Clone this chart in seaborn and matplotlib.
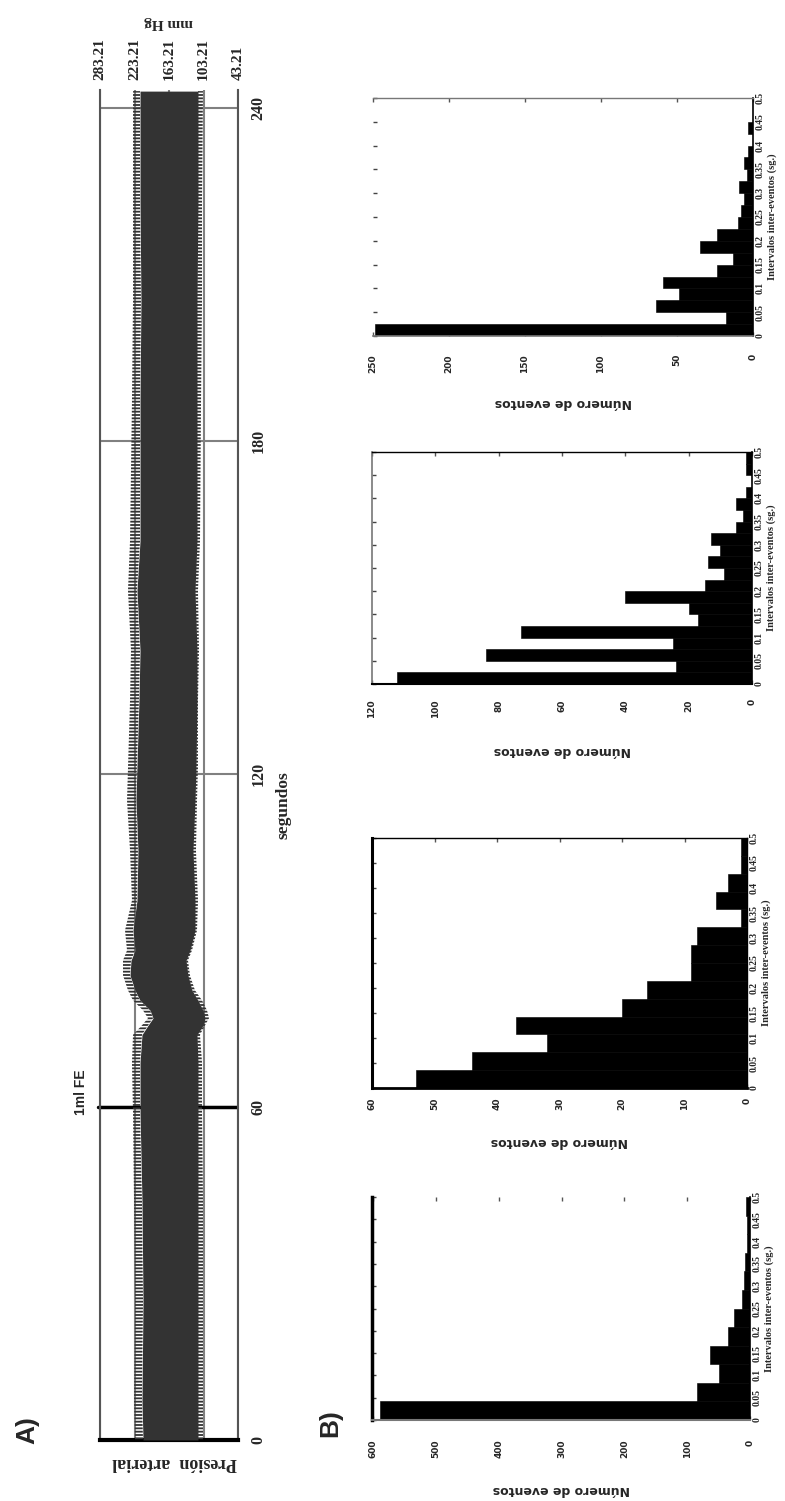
import numpy as np
import matplotlib
matplotlib.use("Agg")
import matplotlib.pyplot as plt
import matplotlib.transforms as mtransforms
import seaborn as sns

# A) registro de presion arterial: envolvente leida del trazo (segundos, mm Hg)
tiempo = [0, 7, 25, 43, 59, 68, 73, 74.7, 76, 77.4, 79.2, 81, 83.7, 86.4, 88.2,
          91.8, 97.2, 106.2, 115.2, 121.1, 133.2, 142.2, 153, 162, 187.2, 205.2,
          223.2, 243]
sist_pico = [222.3, 224.0, 222.3, 224.0, 225.8, 227.6, 225.8, 210.2, 199.7, 208.4,
             225.8, 234.5, 243.2, 243.2, 236.2, 239.7, 227.6, 231.0, 236.2, 234.5,
             231.0, 229.3, 234.5, 231.0, 227.6, 225.8, 225.8, 225.8]
sist_base = [208.4, 210.2, 208.4, 210.2, 213.6, 213.6, 210.2, 199.7, 191.0, 196.0,
             213.6, 222.3, 231.0, 229.3, 222.3, 225.8, 218.9, 217.2, 220.6, 219.0,
             215.5, 213.6, 218.9, 213.6, 213.6, 212.0, 213.6, 213.6]
diast_base = [112.8, 112.8, 112.8, 112.8, 112.8, 112.8, 114.5, 104.1, 100.6, 104.1,
              112.8, 123.2, 130.2, 133.6, 126.7, 118.0, 118.0, 121.5, 118.0, 116.3,
              114.5, 114.5, 118.0, 114.5, 114.5, 114.5, 112.8, 112.8]
diast_valle = [104.1, 104.1, 104.1, 104.1, 105.8, 105.8, 109.3, 100.6, 93.6, 97.1,
               105.8, 118.0, 126.7, 130.2, 123.2, 114.5, 112.8, 116.3, 114.5, 112.8,
               112.8, 111.0, 112.8, 109.3, 107.5, 105.8, 105.8, 104.1]
presion_ticks = [283.21, 223.21, 163.21, 103.21, 43.21]
tiempo_ticks = [0, 60, 120, 180, 240]
inyeccion = 60

# B) histogramas de intervalos inter-eventos (numero de eventos por intervalo)
eventos_1 = [590, 84, 50, 64, 35, 25, 12, 9, 8, 5, 5, 6]
eventos_2 = [53, 44, 32, 37, 20, 16, 9, 9, 8, 1, 5, 3, 1, 1]
eventos_3 = [112, 24, 84, 25, 73, 17, 20, 40, 15, 9, 14, 10, 13, 5, 3, 5, 2, 0, 2, 2]
eventos_4 = [249, 18, 64, 49, 59, 24, 13, 35, 24, 10, 8, 6, 9, 4, 6, 3, 0, 3, 0, 0]
cuentas_ticks_1 = [0, 100, 200, 300, 400, 500, 600]
cuentas_ticks_2 = [0, 10, 20, 30, 40, 50, 60]
cuentas_ticks_3 = [0, 20, 40, 60, 80, 100, 120]
cuentas_ticks_4 = [0, 50, 100, 150, 200, 250]
intervalo_ticks = [0, 0.05, 0.1, 0.15, 0.2, 0.25, 0.3, 0.35, 0.4, 0.45, 0.5]
intervalo_labels = ["0", "0.05", "0.1", "0.15", "0.2", "0.25", "0.3", "0.35", "0.4", "0.45", "0.5"]

sns.set_style("white")
plt.rcParams["font.family"] = ["Liberation Serif", "DejaVu Serif"]
plt.rcParams["hatch.linewidth"] = 1.3
plt.rcParams["hatch.color"] = "#333333"

fig = plt.figure(figsize=(7.85, 15.01), dpi=100)


def caja(px, py, pw, ph):
    return fig.add_axes([px / 785, 1 - (py + ph) / 1501, pw / 785, ph / 1501])


# ---------- A) ----------
axA = caja(100, 90, 138, 1350)
axA.fill_betweenx(tiempo, sist_base, diast_base, color="#333333", lw=0, zorder=3)
axA.fill_betweenx(tiempo, sist_pico, sist_base, facecolor="none", edgecolor="#333333",
                  hatch="-----", lw=0, zorder=3)
axA.fill_betweenx(tiempo, diast_base, diast_valle, facecolor="none", edgecolor="#333333",
                  hatch="-----", lw=0, zorder=3)
axA.axhline(inyeccion, color="black", lw=2.5, zorder=2)
axA.plot([286.5, 283.21], [inyeccion, inyeccion], color="black", lw=2.5, clip_on=False)

axA.set_xlim(283.21, 43.21)
axA.set_ylim(0, 243.2)
axA.set_xticks(presion_ticks)
axA.set_xticklabels([f"{v:.2f}" for v in presion_ticks], rotation=90,
                    fontsize=11, fontweight="bold")
axA.xaxis.tick_top()
axA.set_yticks(tiempo_ticks)
axA.yaxis.tick_right()
axA.set_yticklabels([str(v) for v in tiempo_ticks], rotation=90,
                    fontsize=11.5, fontweight="bold", va="center")
axA.tick_params(axis="x", length=0, pad=7)
axA.tick_params(axis="y", length=0, pad=9)
axA.grid(True, color="#808080", lw=1.5)
axA.set_axisbelow(True)
for lado in ["left", "right"]:
    axA.spines[lado].set_color("#555555")
    axA.spines[lado].set_linewidth(1.5)
axA.spines["top"].set_visible(False)
axA.spines["bottom"].set_color("black")
axA.spines["bottom"].set_linewidth(3)

axA.xaxis.set_label_position("top")
axA.set_xlabel("mm Hg", rotation=180, fontsize=11, fontweight="bold", labelpad=9)
axA.yaxis.set_label_position("right")
axA.set_ylabel("segundos", rotation=90, fontsize=12.5, fontweight="bold")
axA.yaxis.set_label_coords(1.275, 0.47)
axA.text(0.543, -0.017, "Presión  arterial", transform=axA.transAxes, rotation=180,
         ha="center", va="center", fontsize=13, fontweight="bold")
mezcla = mtransforms.blended_transform_factory(axA.transAxes, axA.transData)
axA.text(-0.138, 62.7, "1ml FE", transform=mezcla, rotation=90, ha="center", va="center",
         fontsize=10, fontweight="bold", family=["Liberation Sans", "DejaVu Sans"])

fig.text(27 / 785, 1 - 1430 / 1501, "A)", rotation=90, ha="center", va="center",
         fontsize=19, fontweight="bold", family=["Liberation Sans", "DejaVu Sans"])
fig.text(330 / 785, 1 - 1423 / 1501, "B)", rotation=90, ha="center", va="center",
         fontsize=19, fontweight="bold", family=["Liberation Sans", "DejaVu Sans"])

# ---------- B) ----------
paneles = [
    (caja(372, 1197, 378, 223), eventos_1, 602, cuentas_ticks_1, 14, 18,
     {"left": ("black", 2.5), "right": ("black", 1.2), "bottom": ("#777777", 1.5), "top": None}),
    (caja(372, 838, 375, 250), eventos_2, 60, cuentas_ticks_2, 7, 18,
     {"left": ("black", 2.2), "right": ("black", 1.0), "bottom": ("black", 2.0), "top": ("black", 1.0)}),
    (caja(372, 452, 380, 232), eventos_3, 120, cuentas_ticks_3, 11, 19,
     {"left": ("#777777", 1.2), "right": ("black", 1.2), "bottom": ("black", 1.5), "top": ("black", 1.0)}),
    (caja(373, 98, 380, 238), eventos_4, 250, cuentas_ticks_4, 13, 17,
     {"left": None, "right": ("black", 1.2), "bottom": ("#777777", 1.2), "top": ("#777777", 1.0)}),
]

for ax, cuentas, tope, cticks, pad_c, pad_lab, bordes in paneles:
    n = len(cuentas)
    ancho = 0.5 / n
    centros = (np.arange(n) + 0.5) * ancho
    sns.histplot(y=centros, weights=cuentas, bins=n, binrange=(0, 0.5), color="black",
                 alpha=1, edgecolor="black", linewidth=0.4, ax=ax)
    ax.set_xlim(tope, 0)
    ax.set_ylim(0, 0.5)
    ax.set_xticks(cticks)
    ax.set_xticklabels([str(v) for v in cticks], rotation=90, fontsize=6.5,
                       fontweight="bold", family=["DejaVu Sans"])
    ax.tick_params(axis="x", which="both", top=True, bottom=True, direction="in",
                   length=3, width=1, color="#555555", pad=pad_c)
    ax.set_yticks(intervalo_ticks)
    ax.set_yticklabels(intervalo_labels, rotation=90, fontsize=7, fontweight="bold",
                       va="center")
    ax.tick_params(axis="y", left=True, right=False, labelleft=False, labelright=True,
                   direction="in", length=3, width=1, color="#444444", pad=2)
    ax.yaxis.set_label_position("right")
    ax.set_ylabel("Intervalos inter-eventos (sg.)", rotation=90, fontsize=7.5,
                  fontweight="bold", labelpad=2)
    ax.set_xlabel("Número de eventos", rotation=180, fontsize=9, fontweight="bold",
                  family=["DejaVu Sans"], labelpad=pad_lab)
    for lado, estilo in bordes.items():
        if estilo is None:
            ax.spines[lado].set_visible(False)
        else:
            ax.spines[lado].set_color(estilo[0])
            ax.spines[lado].set_linewidth(estilo[1])
    ax.grid(False)

fig.savefig("out.png", dpi=100, facecolor="white")
